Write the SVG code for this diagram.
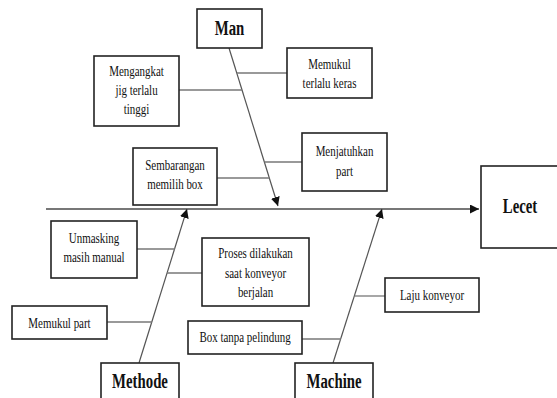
<svg xmlns="http://www.w3.org/2000/svg" width="557" height="398" viewBox="0 0 557 398">
  <style>
    .box { fill: #fff; stroke: #222; stroke-width: 1.6; }
    .lbl { font-family: "Liberation Serif", "Times New Roman", serif; font-size: 15px; fill: #111; text-anchor: middle; }
    .cat { font-family: "Liberation Serif", "Times New Roman", serif; font-size: 20px; font-weight: bold; fill: #111; text-anchor: middle; }
    .spine { stroke: #555; stroke-width: 1.2; fill: none; }
    .bone { stroke: #777; stroke-width: 1.3; fill: none; }
    .main { stroke: #777; stroke-width: 1.8; fill: none; }
  </style>
  <defs>
    <marker id="arrow" viewBox="0 0 10 10" refX="10" refY="5" markerWidth="9" markerHeight="9" markerUnits="userSpaceOnUse" orient="auto">
      <path d="M0,0 L10,5 L0,10 z" fill="#111"/>
    </marker>
  </defs>

  <rect width="557" height="398" fill="#fff"/>

  <!-- connectors: backbone, category spines and cause branches -->
  <g id="connectors">
    <line class="main" x1="46" y1="209" x2="479" y2="209" marker-end="url(#arrow)"/>
    <line class="spine" x1="229" y1="48" x2="278" y2="206" marker-end="url(#arrow)"/>
    <line class="spine" x1="139" y1="363" x2="187" y2="209" marker-end="url(#arrow)"/>
    <line class="spine" x1="333" y1="363" x2="382" y2="209" marker-end="url(#arrow)"/>

    <line class="bone" x1="179" y1="90" x2="242" y2="90"/>
    <line class="bone" x1="237" y1="73" x2="287" y2="73"/>
    <line class="bone" x1="217" y1="178" x2="269.5" y2="178"/>
    <line class="bone" x1="264.5" y1="162" x2="302" y2="162"/>

    <line class="bone" x1="137" y1="249" x2="175" y2="249"/>
    <line class="bone" x1="167" y1="273" x2="202" y2="273"/>
    <line class="bone" x1="107" y1="322" x2="152" y2="322"/>

    <line class="bone" x1="354.5" y1="296" x2="385" y2="296"/>
    <line class="bone" x1="302" y1="339" x2="341" y2="339"/>
  </g>

  <!-- category: Man -->
  <g id="man">
    <rect class="box" x="197" y="9" width="65" height="39"/>
    <text class="cat" transform="translate(229.5,35) scale(0.74,1)">Man</text>
  </g>

  <g id="mengangkat">
    <rect class="box" x="94" y="56" width="85" height="70"/>
    <text class="lbl" transform="translate(136.5,76) scale(0.73,1)">Mengangkat</text>
    <text class="lbl" transform="translate(136.5,95) scale(0.73,1)">jig terlalu</text>
    <text class="lbl" transform="translate(136.5,114) scale(0.73,1)">tinggi</text>
  </g>

  <g id="memukul-keras">
    <rect class="box" x="287" y="48" width="85" height="50"/>
    <text class="lbl" transform="translate(329.5,69) scale(0.73,1)">Memukul</text>
    <text class="lbl" transform="translate(329.5,88) scale(0.73,1)">terlalu keras</text>
  </g>

  <g id="sembarangan">
    <rect class="box" x="133" y="148" width="84" height="57"/>
    <text class="lbl" transform="translate(175,170) scale(0.73,1)">Sembarangan</text>
    <text class="lbl" transform="translate(175,189) scale(0.73,1)">memilih box</text>
  </g>

  <g id="menjatuhkan">
    <rect class="box" x="302" y="133" width="85" height="58"/>
    <text class="lbl" transform="translate(344.5,156) scale(0.73,1)">Menjatuhkan</text>
    <text class="lbl" transform="translate(344.5,176) scale(0.73,1)">part</text>
  </g>

  <!-- effect -->
  <g id="lecet">
    <rect class="box" x="481" y="166" width="82" height="82"/>
    <text class="cat" transform="translate(520,213) scale(0.74,1)">Lecet</text>
  </g>

  <!-- category: Methode -->
  <g id="unmasking">
    <rect class="box" x="51" y="221" width="86" height="57"/>
    <text class="lbl" transform="translate(94,243) scale(0.73,1)">Unmasking</text>
    <text class="lbl" transform="translate(94,262) scale(0.73,1)">masih manual</text>
  </g>

  <g id="proses">
    <rect class="box" x="202" y="238" width="107" height="68"/>
    <text class="lbl" transform="translate(255.5,258) scale(0.73,1)">Proses dilakukan</text>
    <text class="lbl" transform="translate(255.5,278) scale(0.73,1)">saat konveyor</text>
    <text class="lbl" transform="translate(255.5,297) scale(0.73,1)">berjalan</text>
  </g>

  <g id="memukul-part">
    <rect class="box" x="12" y="306" width="95" height="33"/>
    <text class="lbl" transform="translate(59.5,328) scale(0.73,1)">Memukul part</text>
  </g>

  <g id="methode">
    <rect class="box" x="101" y="363" width="78" height="45"/>
    <text class="cat" transform="translate(140,388) scale(0.74,1)">Methode</text>
  </g>

  <!-- category: Machine -->
  <g id="box-tanpa">
    <rect class="box" x="188" y="321" width="114" height="33"/>
    <text class="lbl" transform="translate(245,342) scale(0.73,1)">Box tanpa pelindung</text>
  </g>

  <g id="laju">
    <rect class="box" x="385" y="278" width="94" height="34"/>
    <text class="lbl" transform="translate(432,300) scale(0.73,1)">Laju konveyor</text>
  </g>

  <g id="machine">
    <rect class="box" x="295" y="363" width="78" height="45"/>
    <text class="cat" transform="translate(334,388) scale(0.74,1)">Machine</text>
  </g>
</svg>
